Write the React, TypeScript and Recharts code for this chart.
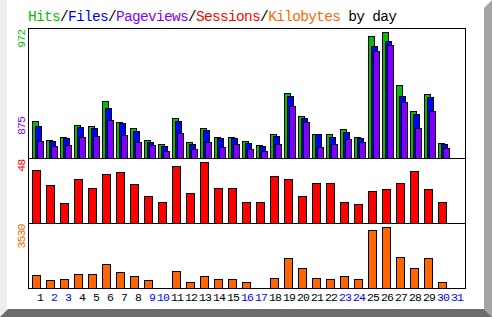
import React from 'react';
import { BarChart, Bar, XAxis, YAxis } from 'recharts';

const days = ['1','2','3','4','5','6','7','8','9','10','11','12','13','14','15','16','17','18','19','20','21','22','23','24','25','26','27','28','29','30','31'];
const weekendDays = ['2','3','9','10','16','17','23','24','30','31'];

const hits = [286,139,162,255,248,441,278,232,139,108,307,121,229,160,160,129,98,183,500,322,183,183,222,160,941,972,562,361,492,113,0];
const files = [245,131,155,240,232,387,271,209,124,93,286,106,214,152,152,113,90,168,477,307,183,160,199,152,864,902,477,338,469,106,0];
const pages = [129,93,101,162,170,294,178,124,101,54,191,67,121,82,106,67,52,106,400,276,82,106,144,121,825,875,431,229,361,75,0];
const sessions = [42,30,16,35,28,39,40,31,21,17,45,24,48,28,28,17,17,37,35,21,32,32,17,15,25,27,32,41,27,17,0];
const kbytes = [752,463,521,810,810,1389,926,694,463,40,984,347,694,521,521,347,40,579,1736,1157,579,521,694,521,3356,3530,1794,1157,1736,347,0];

const maxHits = 972;
const maxPages = 875;
const maxSessions = 48;
const maxKbytes = 3530;

const GREEN = '#00c000';
const BLUE = '#0000ff';
const PURPLE = '#8000ff';
const RED = '#ff0000';
const ORANGE = '#ff6600';
const FONT = '"Liberation Mono", "DejaVu Sans Mono", monospace';

const W = 492;
const H = 317;

const data = days.map((day, i) => ({
  day,
  hits: hits[i],
  files: files[i],
  pages: pages[i],
  sessions: sessions[i],
  kbytes: kbytes[i],
}));

// webalizer-ish bars: crisp 1px black outline, shifted by dx inside the band
function barShape(dx: number, w: number, color: string) {
  return (p: any) => {
    if (!(p.height >= 1)) return <g />;
    const h = Math.round(p.height);
    const x = Math.round(p.x) + dx + 0.5;
    const y = Math.round(p.y + p.height) - h + 0.5;
    return <rect x={x} y={y} width={w} height={h} fill={color} stroke="#000" strokeWidth={1} />;
  };
}

function maxTick(color: string) {
  return (p: any) => {
    const y = p.y - 2.5;
    return (
      <text x={25} y={y} transform={`rotate(-90 25 ${y})`} textAnchor="end"
        fontFamily={FONT} fontSize={11.5} letterSpacing={-0.9} fill={color}>
        {p.payload.value}
      </text>
    );
  };
}

function DayTick(p: any) {
  const v = p.payload.value;
  return (
    <text x={p.x + 7} y={301} textAnchor="end" fontFamily={FONT} fontSize={11.5} letterSpacing={-0.9}
      fill={weekendDays.includes(v) ? BLUE : '#000'}>
      {v}
    </text>
  );
}

const layer: React.CSSProperties = { position: 'absolute', left: 0, top: 0 };

export default function App() {
  return (
    <div style={{ position: 'absolute', left: 0, top: 0, width: W, height: H, background: '#fff', overflow: 'hidden' }}>
      <svg width={W} height={H} style={layer}>
        <rect x={0} y={0} width={7} height={317} fill="#eeeeee" />
        <polygon points="484,8 492,0 492,317 484,309" fill="#a4a4a4" />
        <polygon points="0,317 8,309 484,309 492,317" fill="#6c6c6c" />
        <g stroke="#000" strokeWidth={1} shapeRendering="crispEdges">
          <line x1={28.5} y1={28.5} x2={28.5} y2={288.5} />
          <line x1={465.5} y1={28.5} x2={465.5} y2={288.5} />
          <line x1={28} y1={28.5} x2={466} y2={28.5} />
          <line x1={28} y1={158.5} x2={466} y2={158.5} />
          <line x1={28} y1={223.5} x2={466} y2={223.5} />
          <line x1={28} y1={288.5} x2={466} y2={288.5} />
        </g>
        <text x={28} y={21} fontFamily={FONT} fontSize={14.5} letterSpacing={-0.7} style={{ whiteSpace: 'pre' }}>
          <tspan fill={GREEN}>Hits</tspan>
          <tspan fill="#000">/</tspan>
          <tspan fill={BLUE}>Files</tspan>
          <tspan fill="#000">/</tspan>
          <tspan fill={PURPLE}>Pageviews</tspan>
          <tspan fill="#000">/</tspan>
          <tspan fill={RED}>Sessions</tspan>
          <tspan fill="#000">/</tspan>
          <tspan fill={ORANGE}>Kilobytes</tspan>
          <tspan fill="#000"> by day</tspan>
        </text>
        <text x={25} y={135} transform="rotate(-90 25 135)" textAnchor="start"
          fontFamily={FONT} fontSize={11.5} letterSpacing={-0.9} fill={PURPLE}>
          {maxPages}
        </text>
      </svg>

      {/* hits / files / pageviews */}
      <div style={layer}>
        <BarChart width={W} height={H} data={data} barGap={-4}
          margin={{ top: 28, right: 29, bottom: 159, left: 0 }}>
          <XAxis dataKey="day" hide />
          <YAxis width={29} domain={[0, 1005]} ticks={[maxHits]} axisLine={false} tickLine={false}
            tick={maxTick(GREEN)} />
          <Bar dataKey="hits" barSize={7} shape={barShape(2, 6, GREEN)} isAnimationActive={false} />
          <Bar dataKey="files" barSize={7} shape={barShape(2, 6, BLUE)} isAnimationActive={false} />
          <Bar dataKey="pages" barSize={7} shape={barShape(1, 6, PURPLE)} isAnimationActive={false} />
        </BarChart>
      </div>

      {/* sessions */}
      <div style={layer}>
        <BarChart width={W} height={H} data={data}
          margin={{ top: 158, right: 29, bottom: 94, left: 0 }}>
          <XAxis dataKey="day" hide />
          <YAxis width={29} domain={[0, 51.4]} ticks={[maxSessions]} axisLine={false} tickLine={false}
            tick={maxTick(RED)} />
          <Bar dataKey="sessions" barSize={8} shape={barShape(0, 8, RED)} isAnimationActive={false} />
        </BarChart>
      </div>

      {/* kilobytes */}
      <div style={layer}>
        <BarChart width={W} height={H} data={data}
          margin={{ top: 223, right: 29, bottom: 0, left: 0 }}>
          <XAxis dataKey="day" height={29} interval={0} axisLine={false} tickLine={false} tick={DayTick} />
          <YAxis width={29} domain={[0, 3761]} ticks={[maxKbytes]} axisLine={false} tickLine={false}
            tick={maxTick(ORANGE)} />
          <Bar dataKey="kbytes" barSize={8} shape={barShape(0, 8, ORANGE)} isAnimationActive={false} />
        </BarChart>
      </div>
    </div>
  );
}
